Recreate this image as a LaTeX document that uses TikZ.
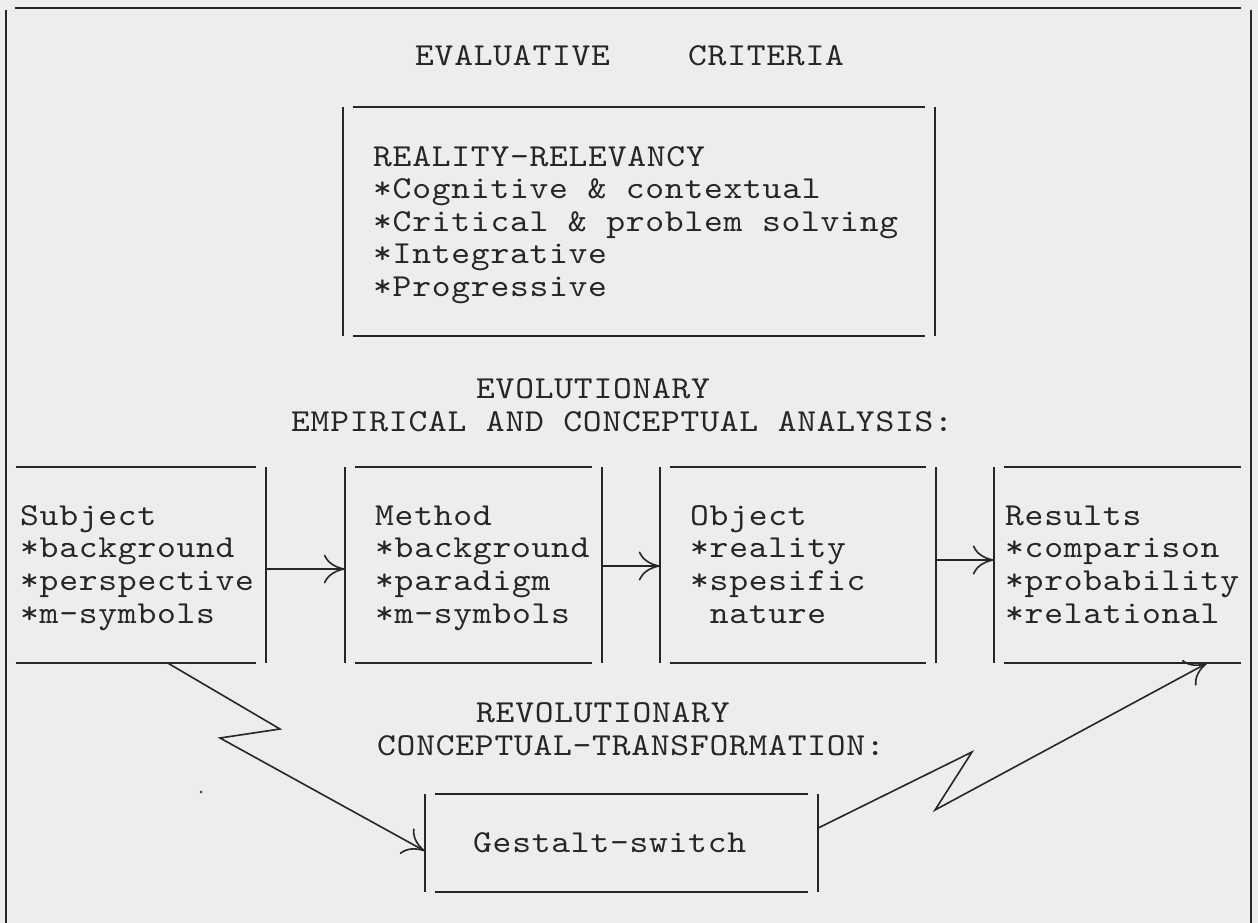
\documentclass[tikz,border=0pt]{standalone}
\usepackage{fontspec}
\newfontfamily\tw{lmmono10-regular.otf}[FakeStretch=1.12,LetterSpace=2.3]
\usetikzlibrary{arrows.meta}
\definecolor{paper}{HTML}{EDEDED}
\definecolor{ink}{HTML}{262626}
\tikzset{
  txt/.style={font=\tw\fontsize{32}{33}\selectfont, text=ink, inner sep=0pt, anchor=base west},
  boxn/.style={inner sep=0pt, draw=none},
  ln/.style={draw=ink, line width=1.6pt},
  arr/.style={ln, line join=miter, -{Computer Modern Rightarrow[length=21pt,width=29pt,line width=1.6pt]}}
}
\newcommand\tbhor[1]{%
  \draw[ln] ([xshift=10pt]#1.north west) -- ([xshift=-10pt]#1.north east);
  \draw[ln] ([xshift=10pt]#1.south west) -- ([xshift=-10pt]#1.south east);}
\newcommand\tbleft[1]{\draw[ln] (#1.north west) -- (#1.south west);}
\newcommand\tbright[1]{\draw[ln] (#1.north east) -- (#1.south east);}
\begin{document}
\begin{tikzpicture}[x=1pt,y=-1pt]
\useasboundingbox (0,0) rectangle (1258,923);
\fill[paper] (0,0) rectangle (1258,923);

% outer frame
\node[boxn, minimum width=1245pt, minimum height=930pt] (frame) at (628.5,473) {};
\draw[ln] ([xshift=9pt]frame.north west) -- ([xshift=-10pt]frame.north east);
\draw[ln] ([yshift=-2pt]frame.north west) -- (frame.south west);
\draw[ln] ([yshift=-2pt]frame.north east) -- (frame.south east);

% title
\node[txt] (title) at (415,66) {EVALUATIVE\ \ \ \ CRITERIA};

% criteria box
\node[boxn, minimum width=592pt, minimum height=229pt] (crit) at (639,221.5) {};
\tbhor{crit}\tbleft{crit}\tbright{crit}
\foreach \t [count=\i from 0] in {REALITY-RELEVANCY,*Cognitive \& contextual,*Critical \& problem solving,*Integrative,*Progressive}
  \node[txt] (critt\i) at (373,166+32.5*\i) {\t};

% evolutionary heading
\node[txt] (evo1) at (476,398) {EVOLUTIONARY};
\node[txt] (evo2) at (291,431) {EMPIRICAL AND CONCEPTUAL ANALYSIS:};

% four boxes
\node[boxn, minimum width=260pt, minimum height=196pt] (sub) at (136,565) {};
\node[boxn, minimum width=257pt, minimum height=196pt] (meth) at (473.5,565) {};
\node[boxn, minimum width=276pt, minimum height=196pt] (obj) at (798,565) {};
\node[boxn, minimum width=257pt, minimum height=196pt] (res) at (1122.5,565) {};
\tbhor{sub}\tbright{sub}
\tbhor{meth}\tbleft{meth}\tbright{meth}
\tbhor{obj}\tbleft{obj}\tbright{obj}
\tbhor{res}\tbleft{res}

\foreach \t [count=\i from 0] in {Subject,*background,*perspective,*m-symbols}
  \node[txt] (subt\i) at (20,525+32.8*\i) {\t};
\foreach \t [count=\i from 0] in {Method,*background,*paradigm,*m-symbols}
  \node[txt] (metht\i) at (375,525+32.8*\i) {\t};
\foreach \t [count=\i from 0] in {Object,*reality,*spesific,\ nature}
  \node[txt] (objt\i) at (690,525+32.8*\i) {\t};
\foreach \t [count=\i from 0] in {Results,*comparison,*probability,*relational}
  \node[txt] (rest\i) at (1005,525+32.8*\i) {\t};

\draw[arr] ([yshift=-4pt]sub.east) -- ([yshift=-4pt]meth.west);
\draw[arr] ([yshift=-1pt]meth.east) -- ([yshift=-1pt]obj.west);
\draw[arr] ([yshift=5pt]obj.east) -- ([yshift=5pt]res.west);

% revolutionary heading
\node[txt] (rev1) at (476,722) {REVOLUTIONARY};
\node[txt] (rev2) at (377,755) {CONCEPTUAL-TRANSFORMATION:};

% gestalt box
\node[boxn, minimum width=393pt, minimum height=98pt] (gest) at (621.5,843) {};
\tbhor{gest}\tbleft{gest}\tbright{gest}
\node[txt] (gestt) at (473,852) {Gestalt-switch};

% zigzag connectors
\coordinate (za) at (280,729);
\coordinate (zb) at (220,738);
\draw[arr] ([xshift=32pt]sub.south) -- (za) -- (zb) -- ([yshift=-8pt]gest.west);
\coordinate (zc) at (972,752);
\coordinate (zd) at (935,810);
\draw[arr] ([yshift=15pt]gest.east) -- (zc) -- (zd) -- ([xshift=84.5pt]res.south);

% speck
\fill[ink] (201,792) circle (1.3pt);
\end{tikzpicture}
\end{document}
